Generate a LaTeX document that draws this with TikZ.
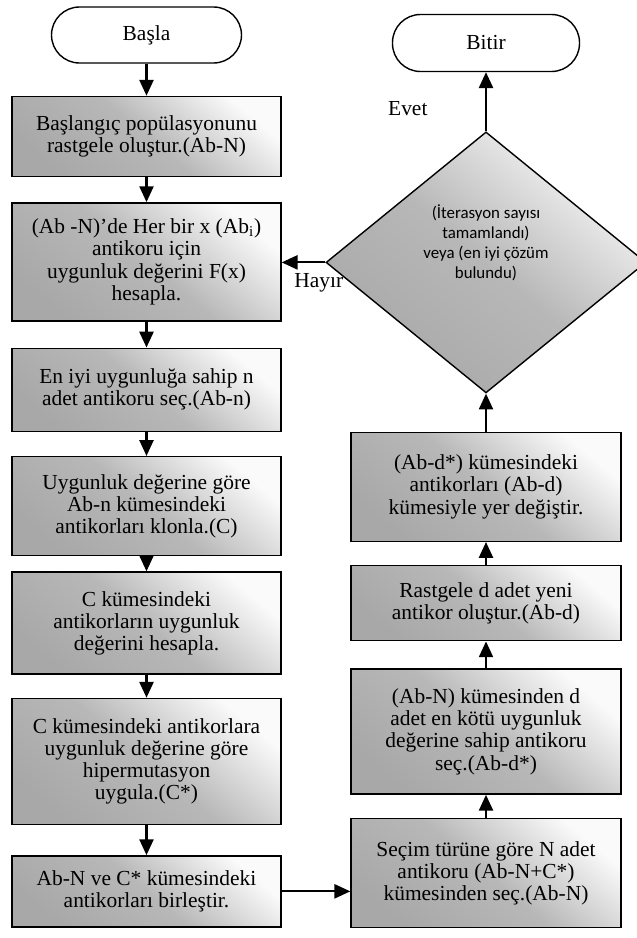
\documentclass[tikz,border=0pt]{standalone}
\usepackage{fontspec}
\setmainfont{Liberation Serif}
\newfontfamily\dfont{Carlito}
\usetikzlibrary{shapes.geometric, arrows.meta, positioning}

\begin{document}
\begin{tikzpicture}[
    node distance=0.5cm,
    every node/.style={font=\fontsize{12.2}{12.6}\selectfont},
    block/.style={rectangle, draw=black, line width=0.8pt,
                  bottom color=gray!68, top color=gray!4, middle color=gray!56,
                  shading angle=-40, minimum width=5.38cm,
                  align=center, inner sep=2pt},
    term/.style={rectangle, draw=black, rounded corners=0.56cm, fill=white,
                 minimum width=3.8cm, minimum height=1.12cm, line width=0.8pt},
    decision/.style={diamond, draw=black, line width=0.8pt,
                     bottom color=gray!68, top color=gray!6, middle color=gray!56,
                     shading angle=-40, minimum width=6.4cm,
                     minimum height=5.22cm, align=center, inner sep=0pt,
                     text depth=0.82cm,
                     font=\dfont\fontsize{9.6}{11.4}\selectfont},
    arrow/.style={-{Triangle[length=9pt, width=8pt]}, line width=1.2pt},
    lbl/.style={inner sep=0pt}
]
\useasboundingbox (0,0) rectangle (12.74,-18.76);

% left column
\node[term] (basla) at (2.93,-0.7) {Başla};
\node[block, below=0.64cm of basla, minimum height=1.6cm] (init)
     {Başlangıç popülasyonunu\\rastgele oluştur.(Ab-N)};
\node[block, below=0.5cm of init, minimum height=2.36cm] (eval)
     {(Ab -N)’de Her bir x (Ab\textsubscript{i})\\antikoru için\\
      uygunluk değerini F(x)\\hesapla.};
\node[block, below=0.52cm of eval, minimum height=1.66cm] (best)
     {En iyi uygunluğa sahip n\\adet antikoru seç.(Ab-n)};
\node[block, below=0.48cm of best, minimum height=1.98cm] (clone)
     {Uygunluk değerine göre\\Ab-n kümesindeki\\antikorları klonla.(C)};
\node[block, below=0.3cm of clone, minimum height=2.04cm] (cloneval)
     {C kümesindeki\\antikorların uygunluk\\değerini hesapla.};
\node[block, below=0.46cm of cloneval, minimum height=2.52cm] (mutate)
     {C kümesindeki antikorlara\\uygunluk değerine göre\\hipermutasyon\\
      uygula.(C*)};
\node[block, below=0.6cm of mutate, minimum height=1.42cm] (merge)
     {Ab-N ve C* kümesindeki\\antikorları birleştir.};

% right column
\node[term, minimum width=3.74cm, minimum height=1.14cm] (bitir)
     at (9.72,-0.86) {Bitir};
\node[decision, below=1.18cm of bitir] (check)
     {(İterasyon sayısı\\tamamlandı)\\veya (en iyi çözüm\\bulundu)};
\node[block, below=0.76cm of check, minimum width=5.4cm,
      minimum height=2.18cm] (replace)
     {(Ab-d*) kümesindeki\\antikorları (Ab-d)\\kümesiyle yer değiştir.};
\node[block, below=0.46cm of replace, minimum width=5.4cm,
      minimum height=1.5cm] (newab)
     {Rastgele d adet yeni\\antikor oluştur.(Ab-d)};
\node[block, below=0.54cm of newab, minimum width=5.4cm,
      minimum height=2.5cm] (worst)
     {(Ab-N) kümesinden d\\adet en kötü uygunluk\\değerine sahip antikoru\\
      seç.(Ab-d*)};
\node[block, below=0.46cm of worst, minimum width=5.4cm,
      minimum height=2.18cm] (choose)
     {Seçim türüne göre N adet\\antikoru (Ab-N+C*)\\kümesinden seç.(Ab-N)};

% connectors
\draw[arrow] (basla)    -- (init);
\draw[arrow] (init)     -- (eval);
\draw[arrow] (eval)     -- (best);
\draw[arrow] (best)     -- (clone);
\draw[arrow] (clone)    -- (cloneval);
\draw[arrow] (cloneval) -- (mutate);
\draw[arrow] (mutate)   -- (merge);
\draw[arrow] (merge.east) -- (merge.east -| choose.west);
\draw[arrow] (choose)   -- (worst);
\draw[arrow] (worst)    -- (newab);
\draw[arrow] (newab)    -- (replace);
\draw[arrow] (replace)  -- (check);
\draw[arrow] (check.north) -- (bitir.south)
     node[lbl, pos=0.39, left=1.15cm] (evet) {Evet};
\draw[arrow] (check.west) -- (check.west -| eval.east)
     node[lbl, pos=0.15, below=0.19cm] (hayir) {Hayır};

\end{tikzpicture}
\end{document}
